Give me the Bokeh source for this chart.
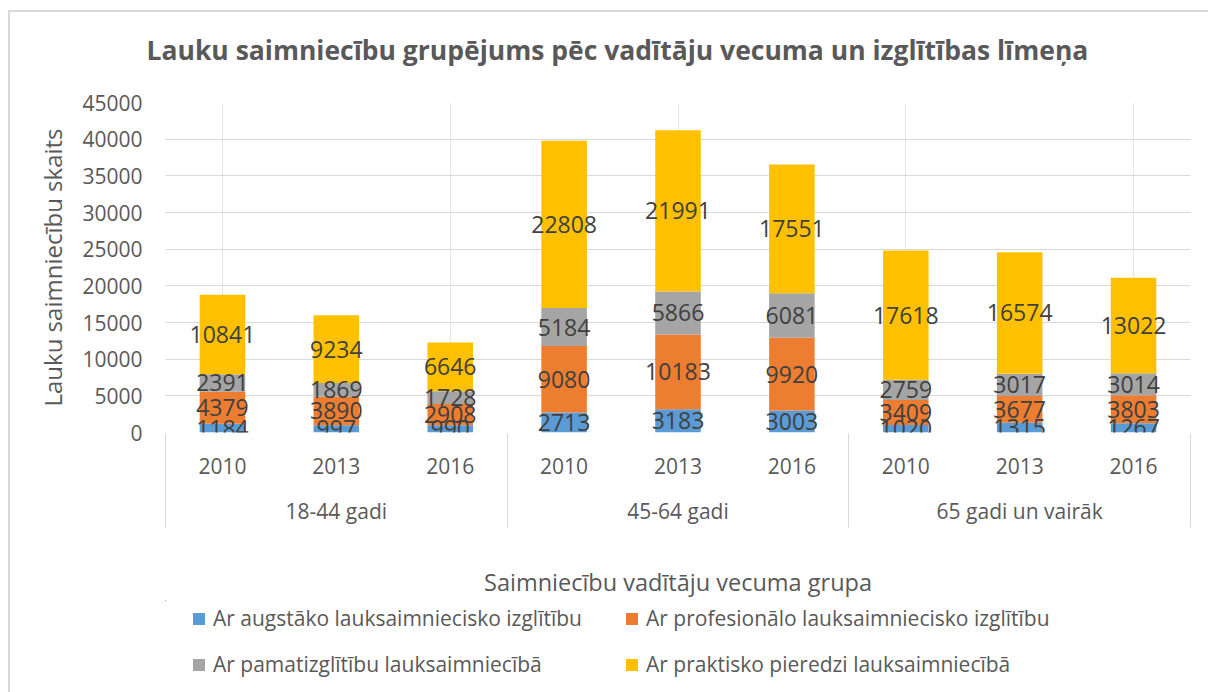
from bokeh.plotting import figure
from bokeh.layouts import column
from bokeh.models import (Range1d, LinearAxis, FixedTicker, ColumnDataSource,
                          Title, Legend, LegendItem)
from bokeh.core.properties import value
from bokeh.embed import file_html
from bokeh.resources import INLINE

# ---------------- data ----------------
groups = ["18-44 gadi", "45-64 gadi", "65 gadi un vairāk"]
years = ["2010", "2013", "2016"]
series_names = [
    "Ar augstāko lauksaimniecisko izglītību",
    "Ar profesionālo lauksaimniecisko izglītību",
    "Ar pamatizglītību lauksaimniecībā",
    "Ar praktisko pieredzi lauksaimniecībā",
]
augstako = [1184, 997, 990, 2713, 3183, 3003, 1020, 1315, 1267]
profesionalo = [4379, 3890, 2908, 9080, 10183, 9920, 3409, 3677, 3803]
pamatizglitiba = [2391, 1869, 1728, 5184, 5866, 6081, 2759, 3017, 3014]
praktiska = [10841, 9234, 6646, 22808, 21991, 17551, 17618, 16574, 13022]
y_ticks = [0, 5000, 10000, 15000, 20000, 25000, 30000, 35000, 40000, 45000]
colors = ["#5B9BD5", "#ED7D31", "#A5A5A5", "#FFC000"]

title_text = "Lauku saimniecību grupējums pēc vadītāju vecuma un izglītības līmeņa"
y_title = "Lauku saimniecību skaits"
x_title = "Saimniecību vadītāju vecuma grupa"

FONT = "Open Sans"
TXT = "#595959"
GRID = "#D9D9D9"
W = 1198

n_y = len(years)
n_bars = len(groups) * n_y
xpos = list(range(n_bars))                      # one slot per (group, year)
year_of_bar = [years[i % n_y] for i in xpos]
group_centers = [g * n_y + (n_y - 1) // 2 for g in range(len(groups))]
boundaries = [g * n_y - 0.5 for g in range(len(groups) + 1)]

series = [augstako, profesionalo, pamatizglitiba, praktiska]
keys = ["s0", "s1", "s2", "s3"]

data = dict(x=xpos)
for k, s in zip(keys, series):
    data[k] = s
src = ColumnDataSource(data)


def bare(fig):
    fig.outline_line_color = None
    fig.background_fill_color = "white"
    fig.border_fill_color = "white"
    return fig


# ---------------- title strip ----------------
p0 = bare(figure(width=W, height=76, x_range=Range1d(0, 1), y_range=Range1d(0, 1),
                 output_backend="svg", toolbar_location=None,
                 x_axis_location=None, y_axis_location=None, min_border=0))
p0.grid.visible = False
p0.add_layout(Title(text=title_text, align="left", offset=-19, standoff=36,
                    vertical_align="middle", text_font=FONT, text_font_size="26.5px",
                    text_font_style="bold", text_color=TXT), "above")

# ---------------- chart ----------------
p = bare(figure(width=W, height=512,
                x_range=Range1d(boundaries[0], boundaries[-1]),
                y_range=Range1d(y_ticks[0], y_ticks[-1]),
                output_backend="svg", toolbar_location=None, x_axis_location=None,
                min_border_left=155, min_border_right=18, min_border_top=14,
                min_border_bottom=167))

rs = p.vbar_stack(keys, x="x", width=0.4, fill_color=colors, line_color=None, source=src)

# data labels centred in each segment
bottom = [0] * n_bars
for s in series:
    mids = [b + v / 2 for b, v in zip(bottom, s)]
    lsrc = ColumnDataSource(dict(x=xpos, y=mids, t=[str(v) for v in s]))
    p.text(x="x", y="y", text="t", source=lsrc, text_align="center", text_baseline="middle",
           text_font=value(FONT), text_font_size="23px", text_color="#404040")
    bottom = [b + v for b, v in zip(bottom, s)]

ya = p.yaxis[0]
ya.ticker = FixedTicker(ticks=y_ticks)
ya.axis_line_color = None
ya.major_tick_line_color = None
ya.minor_tick_line_color = None
ya.major_tick_out = 0
ya.major_label_standoff = 23
ya.major_label_text_font = FONT
ya.major_label_text_font_size = "21px"
ya.major_label_text_color = TXT
ya.axis_label = y_title
ya.axis_label_text_font = FONT
ya.axis_label_text_font_size = "24px"
ya.axis_label_text_font_style = "normal"
ya.axis_label_text_color = TXT
ya.axis_label_standoff = 10

p.ygrid.grid_line_color = GRID
p.ygrid.grid_line_width = 1


def plain_axis(ticks, labels, font_size, standoff):
    ax = LinearAxis(ticker=FixedTicker(ticks=ticks, minor_ticks=[]))
    ax.axis_line_color = None
    ax.major_tick_line_color = None
    ax.minor_tick_line_color = None
    ax.major_tick_out = 0
    ax.major_tick_in = 0
    ax.major_label_standoff = standoff
    ax.major_label_overrides = {t: l for t, l in zip(ticks, labels)}
    ax.major_label_text_font = FONT
    ax.major_label_text_font_size = font_size
    ax.major_label_text_color = TXT
    return ax


# year labels, then age-group labels
p.add_layout(plain_axis(xpos, year_of_bar, "21px", 25), "below")
p.add_layout(plain_axis(group_centers, groups, "21px", 20), "below")

# group separators (ticks pointing up to the plot) + x title
sep = LinearAxis(ticker=FixedTicker(ticks=boundaries, minor_ticks=[]))
sep.axis_line_color = None
sep.major_tick_in = 94
sep.major_tick_out = 0
sep.major_tick_line_color = GRID
sep.major_tick_line_width = 1
sep.minor_tick_line_color = None
sep.major_label_overrides = {b: "" for b in boundaries}
sep.major_label_text_font_size = "0px"
sep.major_label_standoff = 0
sep.axis_label = x_title
sep.axis_label_text_font = FONT
sep.axis_label_text_font_size = "23.5px"
sep.axis_label_text_font_style = "normal"
sep.axis_label_text_color = TXT
sep.axis_label_standoff = 38
p.add_layout(sep, "below")

# ---------------- legend strip ----------------
# the same stacked series, viewed through a window that holds no bars: only the swatches show
p2 = bare(figure(width=W, height=92, x_range=Range1d(100, 101), y_range=Range1d(-2, -1),
                 output_backend="svg", toolbar_location=None,
                 x_axis_location=None, y_axis_location=None, min_border=0))
p2.grid.visible = False
rs2 = p2.vbar_stack(keys, x="x", width=0.4, fill_color=colors, line_color=None, source=src)
legend = Legend(items=[LegendItem(label=n, renderers=[r]) for n, r in zip(series_names, rs2)],
                location=(26, 14), orientation="horizontal", ncols=2,
                label_text_font=FONT, label_text_font_size="21px", label_text_color=TXT,
                glyph_width=15, glyph_height=15, label_standoff=7, label_width=393,
                label_height=25, spacing=18, padding=0, margin=0,
                border_line_color=None, background_fill_alpha=0)
p2.add_layout(legend)

layout = column(p0, p, p2, spacing=0,
                styles={"margin-left": "8px", "margin-top": "10px",
                        "border-left": "2px solid #D9D9D9", "border-top": "2px solid #D9D9D9"})

open("out.html", "w").write(file_html(layout, INLINE))
